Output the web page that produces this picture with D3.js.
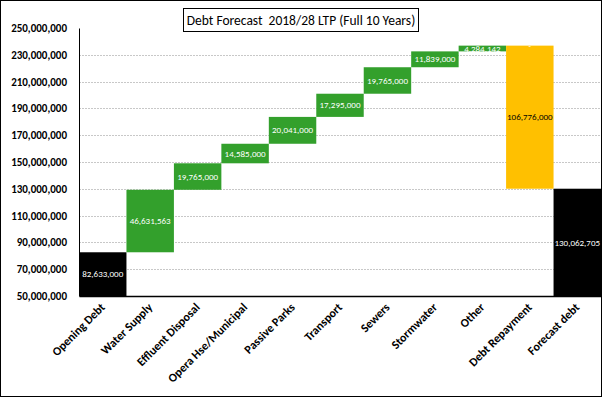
<!DOCTYPE html>
<html>
<head>
<meta charset="utf-8">
<script src="https://cdn.jsdelivr.net/npm/d3@7"></script>
<style>
  body { margin: 0; background: #fff; }
  text { font-family: Carlito, Lato, "Liberation Sans", sans-serif; }
</style>
</head>
<body>
<div class="svg-canvas"></div>
<script>
// Debt forecast waterfall
var categories = ["Opening Debt", "Water Supply", "Effluent Disposal", "Opera Hse/Municipal",
                  "Passive Parks", "Transport", "Sewers", "Stormwater", "Other",
                  "Debt Repayment", "Forecast debt"];
var amounts = [82633000, 46631563, 19765000, 14585000, 20041000, 17295000,
               19765000, 11839000, 4284142, -106776000, 130062705];
var labels = ["82,633,000", "46,631,563", "19,765,000", "14,585,000", "20,041,000", "17,295,000",
              "19,765,000", "11,839,000", "4,284,142", "106,776,000", "130,062,705"];
var kinds = ["total", "up", "up", "up", "up", "up", "up", "up", "up", "down", "total"];
var yTicks = [50e6, 70e6, 90e6, 110e6, 130e6, 150e6, 170e6, 190e6, 210e6, 230e6, 250e6];
var title = "Debt Forecast  2018/28 LTP (Full 10 Years)";

var W = 602, H = 397;
var m = {top: 28, left: 79, right: 1, bottom: 101};
var colors = {total: "#000000", up: "#33a02c", down: "#ffc000"};

var svg = d3.select(".svg-canvas").append("svg")
    .attr("width", W)
    .attr("height", H);

svg.append("rect")
    .attr("x", 0.5).attr("y", 0.5)
    .attr("width", W - 1).attr("height", H - 1)
    .attr("fill", "#fff").attr("stroke", "#000");

var x = d3.scaleBand().domain(categories).range([m.left, W - m.right]).padding(0);
var y = d3.scaleLinear().domain([50e6, 250e6]).range([H - m.bottom, m.top]);

// running totals for floating bars
var running = 0;
var bars = categories.map(function(c, i) {
    var lo, hi;
    if (kinds[i] == "total") {
        lo = 50e6; hi = amounts[i]; running = amounts[i];
    } else {
        lo = running; hi = running + amounts[i]; running = hi;
    }
    return {cat: c, lo: Math.min(lo, hi), hi: Math.max(lo, hi), kind: kinds[i], label: labels[i]};
});

// gridlines
svg.selectAll(".grid")
    .data(yTicks.slice(1, -1))
    .enter().append("line")
    .attr("x1", m.left).attr("x2", W - m.right)
    .attr("y1", function(d) { return Math.round(y(d)) + 0.5; })
    .attr("y2", function(d) { return Math.round(y(d)) + 0.5; })
    .attr("stroke", "#c8c8c8")
    .attr("stroke-dasharray", "2,1");

svg.selectAll(".bar")
    .data(bars)
    .enter().append("rect")
    .attr("x", function(d) { return x(d.cat); })
    .attr("y", function(d) { return y(d.hi); })
    .attr("width", x.bandwidth())
    .attr("height", function(d) { return y(d.lo) - y(d.hi); })
    .attr("fill", function(d) { return colors[d.kind]; });

svg.selectAll(".lbl")
    .data(bars)
    .enter().append("text")
    .attr("x", function(d) { return x(d.cat) + x.bandwidth() / 2; })
    .attr("y", function(d) { return (y(d.lo) + y(d.hi)) / 2; })
    .attr("dy", "0.35em")
    .attr("text-anchor", "middle")
    .attr("font-size", 9)
    .attr("fill", function(d) { return d.kind == "down" ? "#000" : "#fff"; })
    .text(function(d) { return d.label; });

// small dash at top of repayment bar
var rep = bars[9];
svg.append("text")
    .attr("x", x(rep.cat) + x.bandwidth() / 2)
    .attr("y", y(rep.hi) + 3)
    .attr("text-anchor", "middle")
    .attr("font-size", 8)
    .attr("fill", "#fff")
    .text("-");

// axes
var yAxis = svg.append("g")
    .attr("transform", "translate(" + m.left + ",0)")
    .call(d3.axisLeft(y).tickValues(yTicks).tickSize(0).tickPadding(12)
        .tickFormat(d3.format(",")));
yAxis.select(".domain").attr("stroke", "#000");
yAxis.selectAll("text")
    .attr("font-size", 11).attr("font-weight", "bold").attr("fill", "#000")
    .style("font-family", "Carlito, Lato, sans-serif");

var xAxis = svg.append("g")
    .attr("transform", "translate(0," + (H - m.bottom) + ")")
    .call(d3.axisBottom(x).tickSize(0).tickPadding(0));
xAxis.select(".domain").attr("stroke", "#000").attr("stroke-width", 1.5);
xAxis.selectAll("text")
    .attr("font-size", 12).attr("font-weight", "bold").attr("fill", "#000")
    .style("font-family", "Carlito, Lato, sans-serif")
    .attr("text-anchor", "end")
    .attr("dy", 0)
    .attr("transform", "translate(3,12) rotate(-45)");

// title box
var tg = svg.append("g");
tg.append("rect")
    .attr("x", 183.5).attr("y", 8.5)
    .attr("width", 235).attr("height", 23)
    .attr("fill", "#fff").attr("stroke", "#000");
tg.append("text")
    .attr("x", 301).attr("y", 20)
    .attr("dy", "0.35em")
    .attr("text-anchor", "middle")
    .attr("font-size", 13.5)
    .attr("fill", "#000")
    .style("white-space", "pre")
    .text(title);
</script>
</body>
</html>
